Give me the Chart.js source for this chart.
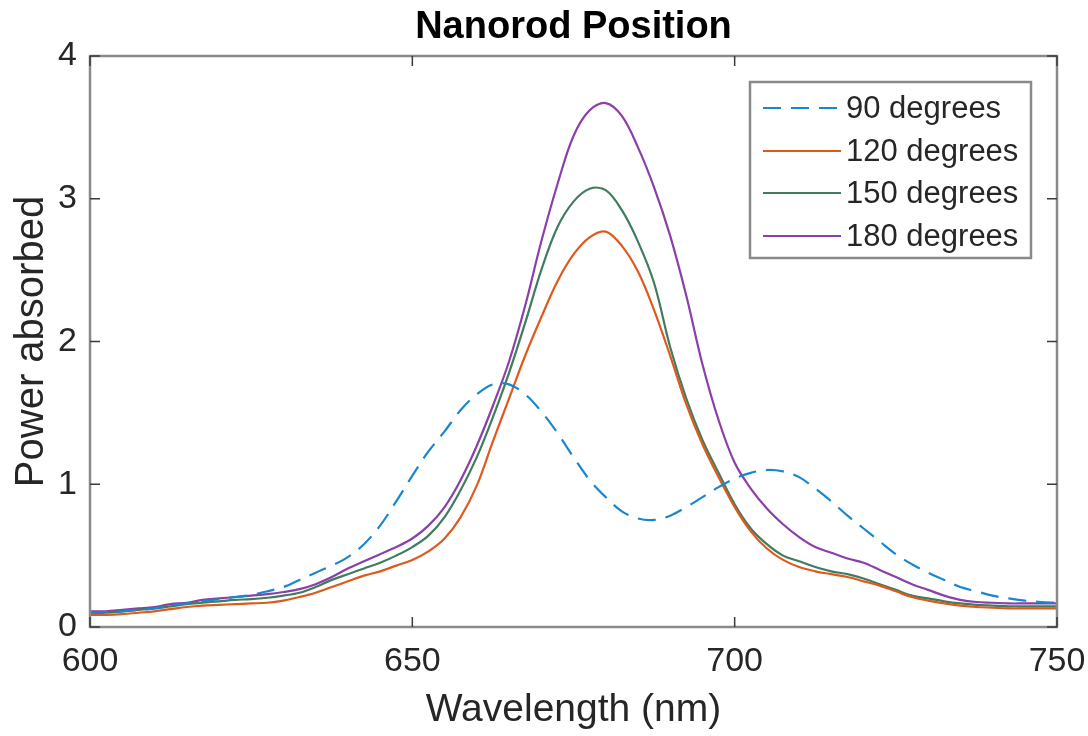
<!DOCTYPE html>
<html>
<head>
<meta charset="utf-8">
<script src="https://cdn.jsdelivr.net/npm/chart.js@4"></script>
<style>
  html, body { margin: 0; padding: 0; background: #fff; }
  #wrap { width: 1088px; height: 736px; }
</style>
</head>
<body>
<div id="wrap"><canvas id="nanorod"></canvas></div>
<script>
// wavelength grid (nm)
var wavelength = [
  600, 602.5, 605, 607.5, 610, 612.5, 615, 617.5, 620, 622.5,
  625, 627.5, 630, 632.5, 635, 637.5, 640, 642.5, 645, 647.5,
  650, 652.5, 655, 657.5, 660, 662.5, 665, 667.5, 670, 672.5,
  675, 677.5, 680, 682.5, 685, 687.5, 690, 692.5, 695, 697.5,
  700, 702.5, 705, 707.5, 710, 712.5, 715, 717.5, 720, 722.5,
  725, 727.5, 730, 732.5, 735, 737.5, 740, 742.5, 745, 747.5,
  750
];

var deg90 = [
  0.10, 0.105, 0.11, 0.12, 0.13, 0.15, 0.165, 0.18, 0.195, 0.21,
  0.225, 0.25, 0.28, 0.33, 0.38, 0.43, 0.49, 0.58, 0.71, 0.88,
  1.06, 1.23, 1.37, 1.52, 1.63, 1.70, 1.70, 1.63, 1.51, 1.36,
  1.19, 1.03, 0.91, 0.81, 0.76, 0.75, 0.78, 0.84, 0.91, 0.98,
  1.04, 1.08, 1.10, 1.09, 1.05, 0.97, 0.88, 0.78, 0.69, 0.60,
  0.51, 0.44, 0.38, 0.33, 0.28, 0.25, 0.22, 0.20, 0.185, 0.175,
  0.17
];

var deg120 = [
  0.085, 0.085, 0.09, 0.10, 0.11, 0.125, 0.14, 0.15, 0.155, 0.16,
  0.165, 0.17, 0.185, 0.21, 0.24, 0.28, 0.32, 0.36, 0.39, 0.43,
  0.47, 0.53, 0.62, 0.77, 0.99, 1.30, 1.60, 1.90, 2.17, 2.42,
  2.61, 2.73, 2.77, 2.67, 2.49, 2.22, 1.90, 1.56, 1.28, 1.05,
  0.84, 0.67, 0.55, 0.47, 0.42, 0.39, 0.37, 0.35, 0.32, 0.29,
  0.25, 0.21, 0.185, 0.165, 0.15, 0.14, 0.135, 0.13, 0.13, 0.13,
  0.13
];

var deg150 = [
  0.10, 0.10, 0.11, 0.12, 0.13, 0.145, 0.16, 0.17, 0.18, 0.19,
  0.195, 0.205, 0.22, 0.24, 0.28, 0.33, 0.37, 0.41, 0.45, 0.50,
  0.56, 0.64, 0.77, 0.96, 1.19, 1.47, 1.78, 2.13, 2.50, 2.80,
  2.98, 3.07, 3.06, 2.92, 2.70, 2.41, 1.96, 1.60, 1.31, 1.08,
  0.86, 0.69, 0.58, 0.50, 0.46, 0.42, 0.39, 0.37, 0.34, 0.30,
  0.26, 0.22, 0.20, 0.18, 0.165, 0.155, 0.15, 0.145, 0.145, 0.145,
  0.145
];

var deg180 = [
  0.11, 0.11, 0.12, 0.13, 0.14, 0.16, 0.17, 0.19, 0.20, 0.21,
  0.22, 0.23, 0.245, 0.265, 0.30, 0.35, 0.41, 0.46, 0.51, 0.56,
  0.62, 0.71, 0.84, 1.03, 1.27, 1.55, 1.86, 2.25, 2.70, 3.10,
  3.44, 3.62, 3.67, 3.58, 3.36, 3.08, 2.74, 2.32, 1.84, 1.45,
  1.15, 0.97, 0.83, 0.72, 0.63, 0.56, 0.52, 0.48, 0.45, 0.40,
  0.35, 0.30, 0.26, 0.22, 0.19, 0.175, 0.17, 0.165, 0.165, 0.165,
  0.165
];

var seriesLabels = ['90 degrees', '120 degrees', '150 degrees', '180 degrees'];
var seriesColors = ['#1a86cf', '#dd5a1e', '#3f7d5e', '#8b3fa8'];
var xTicks = [600, 650, 700, 750];
var yTicks = [0, 1, 2, 3, 4];
var chartTitle = 'Nanorod Position';

var FONT = "'Liberation Sans', Arial, Helvetica, sans-serif";
var TEXT = '#262626';
var FRAME = '#8a8a8a';

function pts(vals) {
  return wavelength.map(function(w, i) { return {x: w, y: vals[i]}; });
}

// box, inward ticks, title and legend, MATLAB style
var matlabBox = {
  id: 'matlabBox',
  afterDraw: function(chart) {
    var ctx = chart.ctx, a = chart.chartArea;
    var xs = chart.scales.x, ys = chart.scales.y;
    ctx.save();
    ctx.strokeStyle = FRAME;
    ctx.lineWidth = 2.5;
    ctx.strokeRect(a.left, a.top, a.right - a.left, a.bottom - a.top);
    ctx.strokeStyle = '#3a3a3a';
    ctx.lineWidth = 1.5;
    var t = 10;
    xTicks.forEach(function(v) {
      var px = xs.getPixelForValue(v);
      ctx.beginPath();
      ctx.moveTo(px, a.bottom); ctx.lineTo(px, a.bottom - t);
      ctx.moveTo(px, a.top); ctx.lineTo(px, a.top + t);
      ctx.stroke();
    });
    yTicks.forEach(function(v) {
      var py = ys.getPixelForValue(v);
      ctx.beginPath();
      ctx.moveTo(a.left, py); ctx.lineTo(a.left + t, py);
      ctx.moveTo(a.right, py); ctx.lineTo(a.right - t, py);
      ctx.stroke();
    });

    // title over the axes box
    ctx.fillStyle = '#000';
    ctx.font = 'bold 38px ' + FONT;
    ctx.textAlign = 'center';
    ctx.textBaseline = 'alphabetic';
    ctx.fillText(chartTitle, (a.left + a.right) / 2, 38);

    // legend
    var lx = 750, ly = 82, lw = 281, lh = 176;
    ctx.fillStyle = '#fff';
    ctx.fillRect(lx, ly, lw, lh);
    ctx.strokeStyle = FRAME;
    ctx.lineWidth = 2.5;
    ctx.strokeRect(lx, ly, lw, lh);
    var rows = [108, 151, 193, 236];
    chart.data.datasets.forEach(function(ds, i) {
      ctx.strokeStyle = ds.borderColor;
      ctx.lineWidth = 2.2;
      ctx.setLineDash(ds.borderDash || []);
      ctx.beginPath();
      ctx.moveTo(763, rows[i]); ctx.lineTo(841, rows[i]);
      ctx.stroke();
      ctx.setLineDash([]);
      ctx.fillStyle = TEXT;
      ctx.font = '31px ' + FONT;
      ctx.textBaseline = 'middle';
      ctx.textAlign = 'left';
      ctx.fillText(ds.label, 846, rows[i] + 1);
    });
    ctx.restore();
  }
};

var chart = new Chart('nanorod', {
  type: 'line',
  data: {
    datasets: [
      {label: seriesLabels[0], data: pts(deg90), borderColor: seriesColors[0], borderDash: [18, 10]},
      {label: seriesLabels[1], data: pts(deg120), borderColor: seriesColors[1]},
      {label: seriesLabels[2], data: pts(deg150), borderColor: seriesColors[2]},
      {label: seriesLabels[3], data: pts(deg180), borderColor: seriesColors[3]}
    ]
  },
  options: {
    responsive: true,
    maintainAspectRatio: false,
    animation: false,
    elements: {
      point: {radius: 0},
      line: {borderWidth: 2.2, tension: 0.35, fill: false}
    },
    layout: {padding: {top: 56, right: 31, bottom: 0, left: 0}},
    plugins: {
      legend: {display: false},
      tooltip: {enabled: false},
      title: {display: false}
    },
    scales: {
      x: {
        type: 'linear',
        min: 600, max: 750,
        afterBuildTicks: function(s) { s.ticks = xTicks.map(function(v) { return {value: v}; }); },
        afterFit: function(s) { s.height = 109; s.paddingLeft = 0; s.paddingRight = 0; },
        grid: {display: false, drawTicks: false},
        border: {display: false},
        ticks: {color: TEXT, font: {family: FONT, size: 34}, padding: 14, maxRotation: 0},
        title: {display: true, text: 'Wavelength (nm)', color: TEXT,
                font: {family: FONT, size: 39, lineHeight: 1.2}, padding: {top: 0, bottom: 2}}
      },
      y: {
        min: 0, max: 4,
        afterBuildTicks: function(s) { s.ticks = yTicks.map(function(v) { return {value: v}; }); },
        afterFit: function(s) { s.width = 90; s.paddingTop = 0; s.paddingBottom = 0; },
        grid: {display: false, drawTicks: false},
        border: {display: false},
        ticks: {color: TEXT, font: {family: FONT, size: 34}, padding: 13},
        title: {display: true, text: 'Power absorbed', color: TEXT,
                font: {family: FONT, size: 40, lineHeight: 1.2}, padding: {top: 8, bottom: 0}}
      }
    }
  },
  plugins: [matlabBox]
});
</script>
</body>
</html>
